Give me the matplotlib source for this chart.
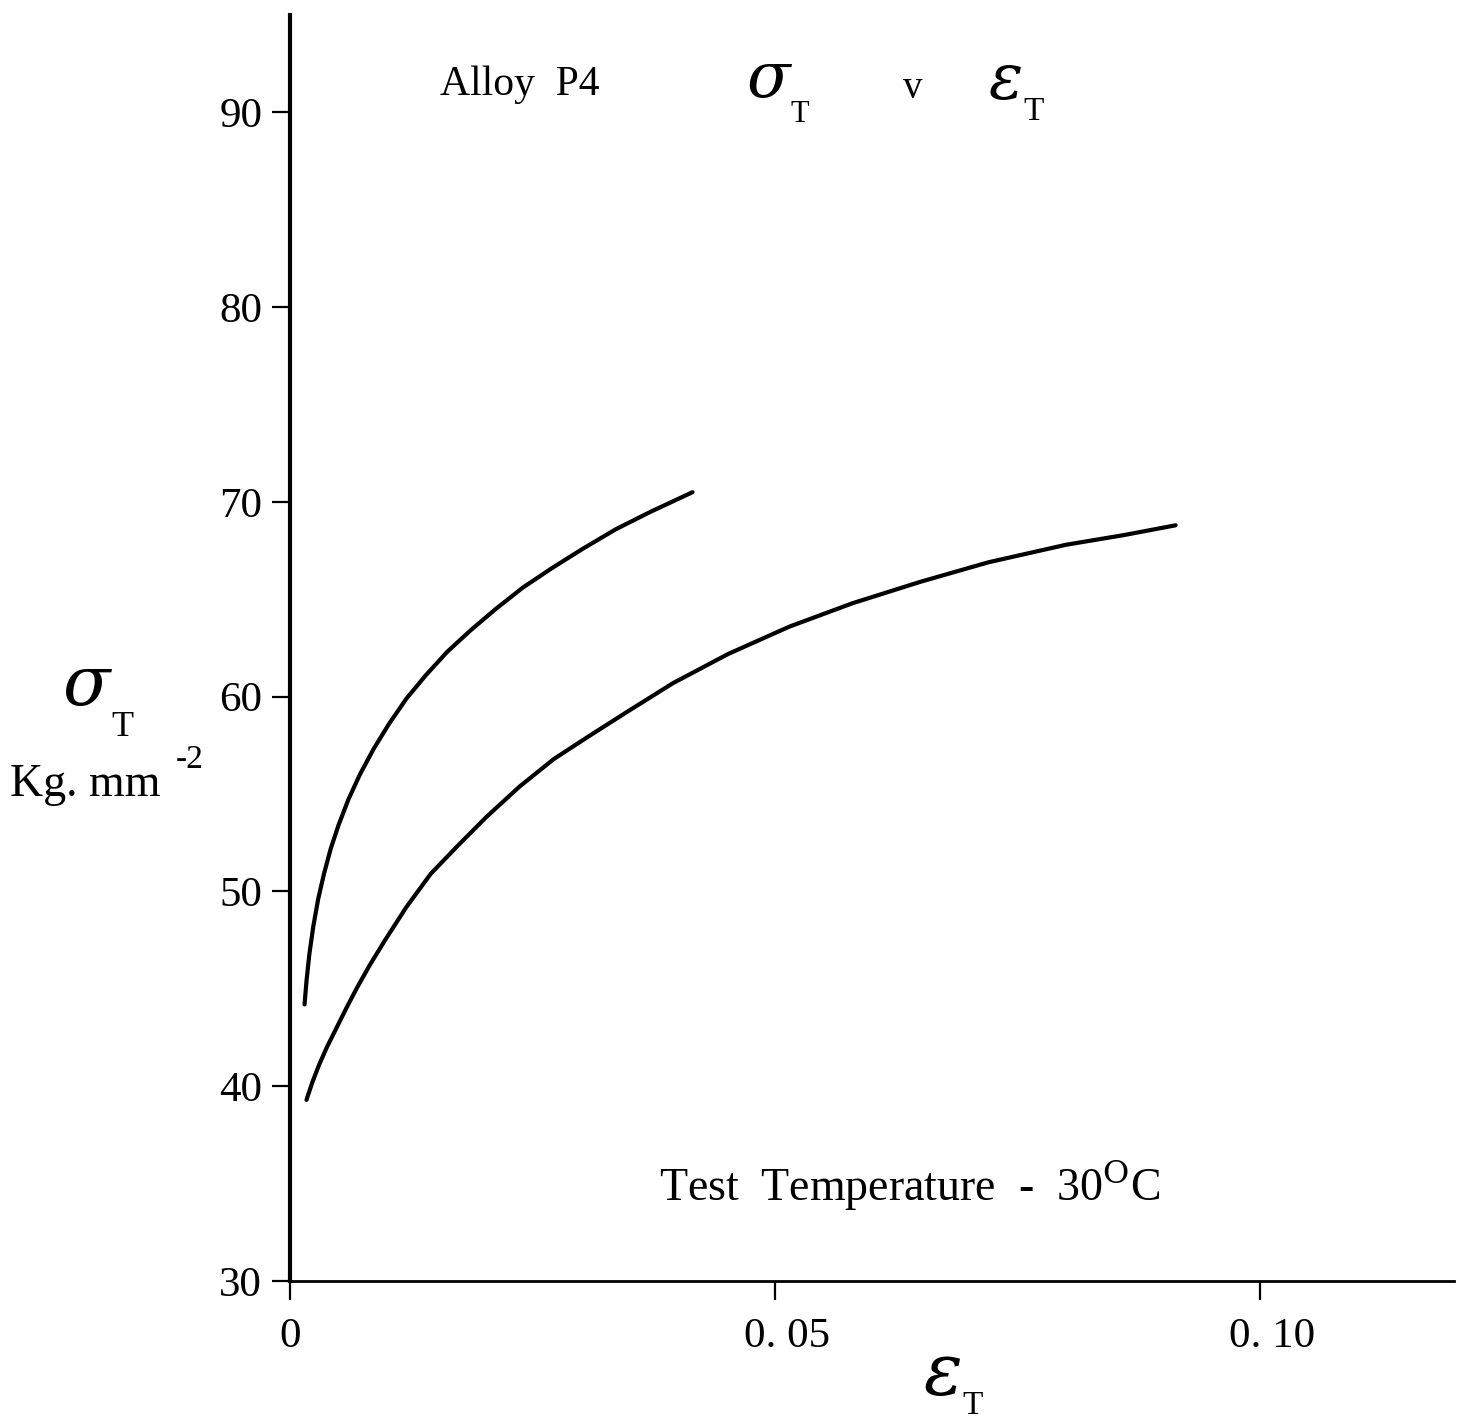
import matplotlib.pyplot as plt
from matplotlib.transforms import ScaledTranslation

# stress-strain curves (strain, stress kg/mm^2)
upper_strain = [0.0015, 0.0017, 0.0020, 0.0024, 0.0029, 0.0035, 0.0042, 0.0050,
                0.0060, 0.0072, 0.0086, 0.0102, 0.0120, 0.0140, 0.0162, 0.0186,
                0.0212, 0.0240, 0.0270, 0.0302, 0.0336, 0.0372, 0.0415]
upper_stress = [44.2, 45.4, 46.8, 48.2, 49.6, 50.9, 52.2, 53.4,
                54.7, 56.0, 57.3, 58.6, 59.9, 61.1, 62.3, 63.4,
                64.5, 65.6, 66.6, 67.6, 68.6, 69.5, 70.5]

lower_strain = [0.0017, 0.0023, 0.0030, 0.0038, 0.0048, 0.0058, 0.0069, 0.0082,
                0.0098, 0.0120, 0.0145, 0.0172, 0.0203, 0.0237, 0.0272, 0.0309,
                0.0350, 0.0395, 0.0452, 0.0515, 0.0580, 0.0650, 0.0720, 0.0800,
                0.0860, 0.0913]
lower_stress = [39.3, 40.2, 41.1, 42.0, 43.0, 44.0, 45.05, 46.2,
                47.5, 49.2, 50.9, 52.3, 53.85, 55.4, 56.8, 58.0,
                59.3, 60.7, 62.2, 63.6, 64.8, 65.9, 66.9, 67.8,
                68.3, 68.8]

xticks = [0, 0.05, 0.10]
xlabels = ['0', '0. 05', '0. 10']
yticks = [30, 40, 50, 60, 70, 80, 90]
ylabels = ['30', '40', '50', '60', '70', '80', '90']

W, H = 1458, 1422
plt.rcParams['font.family'] = ['Liberation Serif', 'DejaVu Serif']
plt.rcParams['mathtext.fontset'] = 'dejavuserif'

fig = plt.figure(figsize=(W / 100, H / 100), dpi=100)
ax = fig.add_axes([290 / W, 141 / H, (1454 - 290) / W, (1281 - 15) / H])

ax.plot(upper_strain, upper_stress, color='black', lw=3.0, solid_capstyle='round')
ax.plot(lower_strain, lower_stress, color='black', lw=3.0, solid_capstyle='round')

ax.set_xlim(0, 0.12)
ax.set_ylim(30, 95)
for s in ['top', 'right']:
    ax.spines[s].set_visible(False)
ax.spines['left'].set_linewidth(3.0)
ax.spines['bottom'].set_linewidth(2.0)

ax.set_xticks(xticks)
ax.set_xticklabels(xlabels)
ax.set_yticks(yticks)
ax.set_yticklabels(ylabels)
ax.tick_params(axis='y', direction='out', length=13, width=1.6, pad=7, labelsize=31)
ax.tick_params(axis='x', direction='out', length=14, width=1.6, pad=12, labelsize=31)
# the typed decimals sit a little right of their ticks
shift = ScaledTranslation(12 / 100, 0, fig.dpi_scale_trans)
for lab in ax.get_xticklabels()[1:]:
    lab.set_transform(lab.get_transform() + shift)


def ftext(px, py, s, **kw):
    # place text by pixel position of the reference
    fig.text(px / W, 1 - py / H, s, va='center', ha='center', **kw)


# title
ftext(520, 85, 'Alloy  P4', fontsize=30)
ftext(770, 82, r'$\sigma$', fontsize=46)
ftext(800, 114, 'T', fontsize=22)
ftext(913, 88, 'v', fontsize=28)
ftext(1005, 84, r'$\varepsilon$', fontsize=46)
ftext(1034, 112, 'T', fontsize=24)

ftext(910, 1185, r'Test  Temperature  -  30$^{\mathrm{O}}$C', fontsize=33)

# y label
ftext(88, 688, r'$\sigma$', fontsize=50)
ftext(122, 728, 'T', fontsize=26)
fig.text(10 / W, 1 - 785 / H, 'Kg. mm', fontsize=33, va='center', ha='left')
ftext(190, 760, '-2', fontsize=24)

# x label
ftext(942, 1378, r'$\varepsilon$', fontsize=52)
ftext(973, 1406, 'T', fontsize=24)

fig.savefig('out.png', dpi=100)
